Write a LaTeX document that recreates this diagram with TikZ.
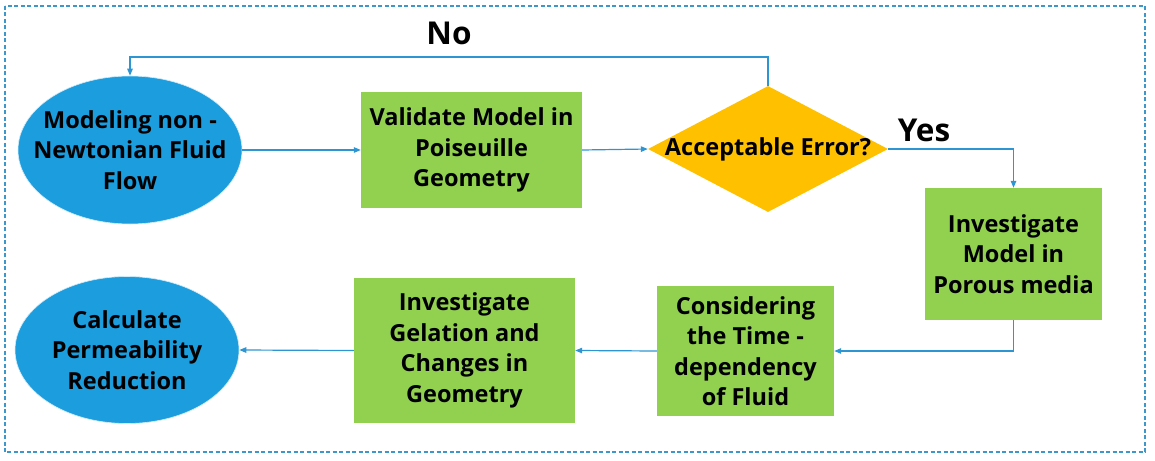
\documentclass[tikz,border=0pt]{standalone}
\usepackage{fontspec}
\setmainfont{Open Sans}
\usetikzlibrary{shapes.geometric,arrows.meta}
\definecolor{eblue}{HTML}{1B9DDE}
\definecolor{bgreen}{HTML}{92D050}
\definecolor{dorange}{HTML}{FFC000}
\definecolor{lblue}{HTML}{2E95D3}
\definecolor{frameblue}{HTML}{3D97C8}
\begin{document}
\begin{tikzpicture}[x=1pt,y=-1pt,
  txt/.style={font=\fontsize{23.5}{30.5}\selectfont\bfseries,align=center,text=black},
  oval/.style={ellipse,fill=eblue,draw=white!80!eblue,line width=0.6pt,inner sep=0pt},
  stepbox/.style={rectangle,fill=bgreen,inner sep=0pt,txt},
  arr/.style={draw=lblue,line width=1.2pt,-{Triangle[length=7pt,width=5.5pt]}},
  lbl/.style={font=\fontsize{31.5}{32}\selectfont\bfseries,text=black}]
\useasboundingbox (0,0) rectangle (1155,460);
\draw[frameblue,line width=1.5pt,dash pattern=on 4pt off 2.5pt] (5,6) rectangle (1145,452);
\node[oval,minimum width=224,minimum height=148] (e1) at (130,150) {};
\node[txt] (e1t) at (e1.center) {Modeling non -\\Newtonian Fluid\\Flow};
\node[stepbox,minimum width=221,minimum height=116] (b1) at (471.5,150) {Validate Model in\\Poiseuille\\Geometry};
\node[diamond,fill=dorange,minimum width=240,minimum height=126,inner sep=0pt] (d) at (768,149) {};
\node[txt] (dt) at (d.center) {Acceptable Error?};
\node[stepbox,minimum width=177,minimum height=132] (b3) at (1013.5,254) {Investigate\\Model in\\Porous media};
\node[stepbox,minimum width=177,minimum height=130] (b4) at (745.5,351) {Considering\\the Time -\\dependency\\of Fluid};
\node[stepbox,minimum width=221,minimum height=145] (b5) at (464.5,350.5) {Investigate\\Gelation and\\Changes in\\Geometry};
\node[oval,minimum width=224,minimum height=147] (e2) at (127,350) {};
\node[txt] (e2t) at (e2.center) {Calculate\\Permeability\\Reduction};
\node[lbl] (no) at (449,33) {No};
\node[lbl] (yes) at (924,130) {Yes};
\coordinate (ntop) at (768,57);
\draw[arr] (e1.east) -- (b1.west);
\draw[arr] (b1.east) -- (d.west);
\draw[arr] (d.north) -- (ntop) -| (e1.north);
\draw[arr] (d.east) -| (b3.north);
\draw[arr] (b3.south) |- (b4.east);
\draw[arr] (b4.west) -- (b5.east);
\draw[arr] (b5.west) -- (e2.east);
\end{tikzpicture}
\end{document}
